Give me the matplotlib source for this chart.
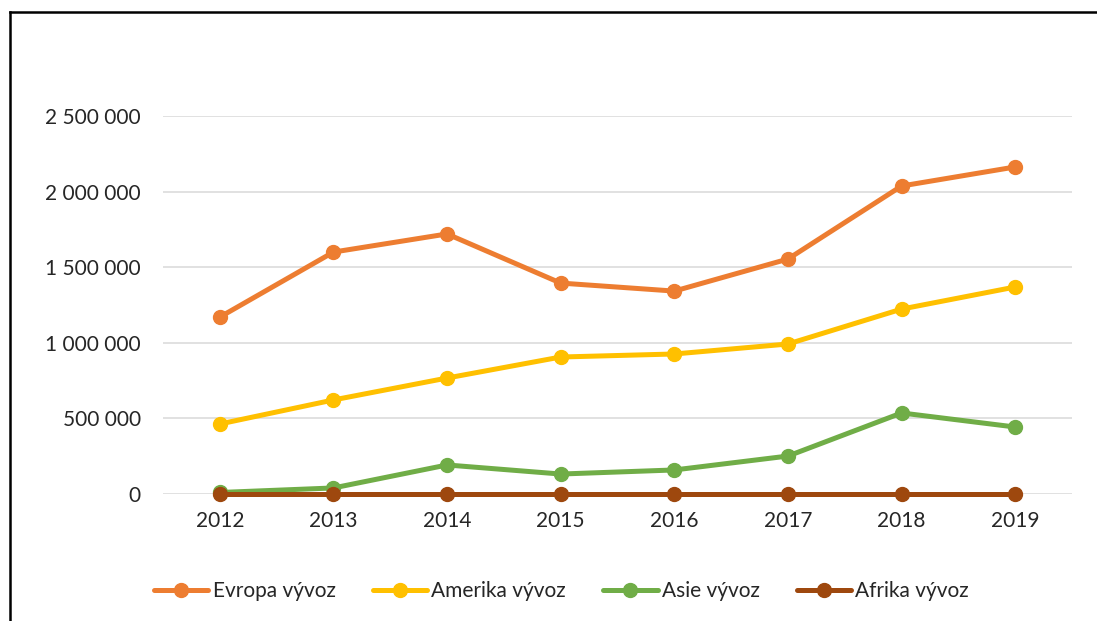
import matplotlib
matplotlib.use("Agg")
import matplotlib.pyplot as plt
from matplotlib.lines import Line2D
from matplotlib.ticker import FuncFormatter

years = ["2012", "2013", "2014", "2015", "2016", "2017", "2018", "2019"]
evropa = [1170000, 1600000, 1720000, 1395000, 1342000, 1554000, 2037000, 2163000]
amerika = [463000, 622000, 767000, 906000, 926000, 992000, 1223000, 1369000]
asie = [10000, 40000, 192000, 132000, 159000, 251000, 536000, 443000]
afrika = [3000, 3000, 3000, 3000, 3000, 3000, 3000, 3000]

series = [
    ("Evropa vývoz", evropa, "#ED7D31"),
    ("Amerika vývoz", amerika, "#FFC000"),
    ("Asie vývoz", asie, "#70AD47"),
    ("Afrika vývoz", afrika, "#9E480E"),
]

plt.rcParams["font.family"] = ["Lato", "DejaVu Sans"]

fig = plt.figure(figsize=(10.97, 6.21), dpi=100)
ax = fig.add_axes([163 / 1097, 1 - 494 / 621, 909 / 1097, 378 / 621])

x = list(range(len(years)))
for name, vals, col in series:
    ax.plot(x, vals, color=col, lw=3.6, marker="o", ms=10, label=name,
            solid_capstyle="round", clip_on=False)

ax.set_xlim(-0.5, len(years) - 0.5)
ax.set_ylim(0, 2500000)
ax.set_yticks([0, 500000, 1000000, 1500000, 2000000, 2500000])
ax.yaxis.set_major_formatter(FuncFormatter(lambda v, p: f"{int(v):,}".replace(",", " ")))
ax.set_xticks(x)
ax.set_xticklabels(years)
ax.grid(axis="y", color="#D9D9D9", lw=1.1)
ax.set_axisbelow(True)
for s in ax.spines.values():
    s.set_visible(False)
ax.tick_params(axis="y", length=0, pad=16, labelsize=15, colors="#262626")
ax.tick_params(axis="x", length=0, pad=12, labelsize=15, colors="#262626")

fig.legend(loc="center", bbox_to_anchor=(0.512, 0.048), ncol=4, frameon=False,
           fontsize=15, handlelength=2.6, handletextpad=0.2, columnspacing=1.8,
           labelcolor="#262626")

# frame of the chart area (left and top edges only are visible)
fx = 10 / 1097
fy = 1 - 12 / 621
fig.add_artist(Line2D([fx, fx], [-0.05, fy], transform=fig.transFigure,
                      color="black", lw=1.8, clip_on=False))
fig.add_artist(Line2D([fx, 1.05], [fy, fy], transform=fig.transFigure,
                      color="black", lw=1.8, clip_on=False))

fig.savefig("out.png", dpi=100)
